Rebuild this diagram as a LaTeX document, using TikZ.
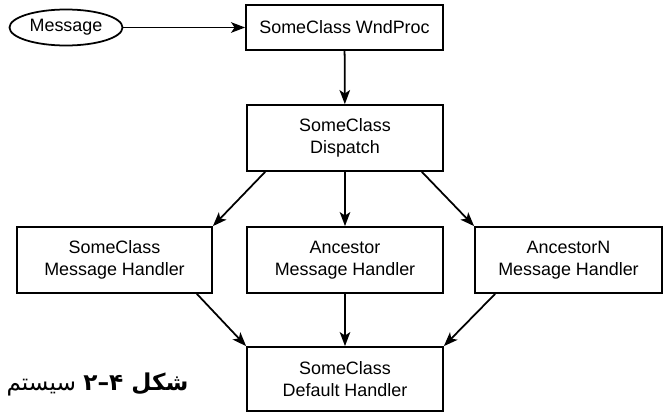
\documentclass[tikz,border=0pt]{standalone}
\usepackage{fontspec}
\setmainfont{Liberation Sans}
\newfontfamily\farsifont[Script=Arabic]{DejaVu Sans}
\TeXXeTstate=1
\usetikzlibrary{positioning,shapes.geometric,arrows.meta}

\begin{document}
\begin{tikzpicture}[>={Stealth[length=8pt,width=6pt,inset=2pt]},line width=1pt]

\tikzstyle{box}=[rectangle,draw,align=center,inner sep=0pt,minimum width=3.92cm,minimum height=1.32cm,font=\fontsize{10.2}{12.5}\selectfont]
\tikzstyle{oval}=[ellipse,draw,inner sep=0pt,minimum width=2.26cm,minimum height=0.72cm,font=\fontsize{10.2}{12.5}\selectfont]

\useasboundingbox (0,0) rectangle (13.3,-8.28);

\node[oval] (msg) at (1.32,-0.55) {Message};
\node[box,minimum height=0.9cm,minimum width=3.94cm] (wnd) at (6.89,-0.55) {SomeClass WndProc};
\node[box] (disp) at (6.9,-2.76) {SomeClass\\Dispatch};
\node[box,minimum width=3.9cm] (lh) at (2.29,-5.2) {SomeClass\\Message Handler};
\node[box] (mh) at (6.9,-5.2) {Ancestor\\Message Handler};
\node[box,minimum width=3.74cm] (rh) at (11.37,-5.2) {AncestorN\\Message Handler};
\node[box,minimum height=1.28cm] (def) at (6.9,-7.58) {SomeClass\\Default Handler};

\node[font=\farsifont\fontsize{13.2}{15}\selectfont] (cap) at (1.95,-7.68)
    {\beginR{\bfseries شکل \beginL۴–۲\endL} سیستم\endR};

\draw[->] (msg) -- (wnd);

\foreach \a/\b in {wnd/disp,disp/mh,mh/def}
    \draw[->] (\a) -- (\b);

\draw[->] ([xshift=0.38cm]disp.south west) -- (lh.north east);
\draw[->] ([xshift=-0.44cm]disp.south east) -- (rh.north west);
\draw[->] ([xshift=-0.32cm]lh.south east) -- (def.north west);
\draw[->] ([xshift=0.42cm]rh.south west) -- (def.north east);

\end{tikzpicture}
\end{document}
